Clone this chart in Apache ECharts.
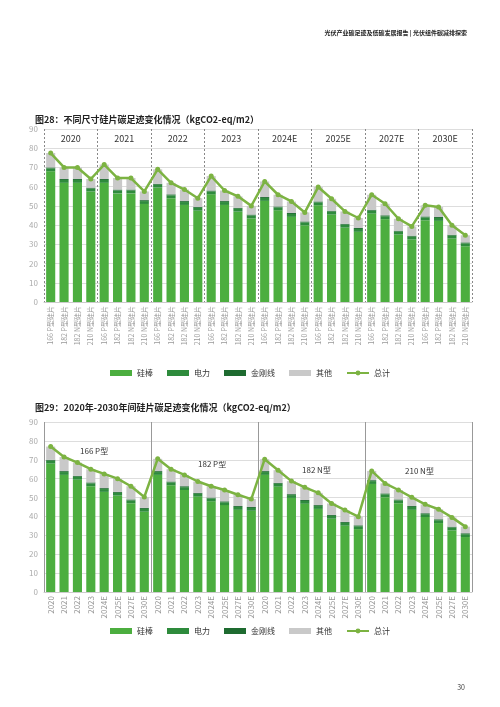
<!DOCTYPE html>
<html lang="zh">
<head>
<meta charset="UTF-8">
<title>硅片碳足迹</title>
<script src="https://cdn.jsdelivr.net/npm/echarts@6/dist/echarts.min.js"></script>
<style>
  html, body { margin: 0; padding: 0; background: #fff; }
  #main { width: 500px; height: 707px; }
</style>
</head>
<body>
<div id="main"></div>
<script>
// ---- 图28 数据 ----
var sizes = ['166 P型硅片', '182 P型硅片', '182 N型硅片', '210 N型硅片'];
var years1 = ['2020', '2021', '2022', '2023', '2024E', '2025E', '2027E', '2030E'];
var cats1 = [];
years1.forEach(function () { sizes.forEach(function (s) { cats1.push(s); }); });

var rod1 = [68, 62, 62, 57.5, 62, 56.5, 56.5, 51, 59.5, 54, 50.5, 47.5, 56, 50.5, 47, 43.5,
            52.6, 47.7, 44.3, 39.9, 50.3, 45.5, 38.7, 36.5, 46, 43.1, 35.1, 32.5, 42.5, 42.2, 33, 29];
var power1 = [1.5, 1.5, 1.5, 1.5, 1.5, 1.5, 1.5, 1.5, 1.5, 1.5, 1.5, 1.5, 1.5, 1.5, 1.5, 1.5,
              1.5, 1.5, 1.5, 1.5, 1.5, 1.5, 1.5, 1.5, 1.5, 1.5, 1.5, 1.5, 1.5, 1.5, 1.5, 1.5];
var wire1 = [0.5, 0.5, 0.5, 0.5, 0.5, 0.5, 0.5, 0.5, 0.5, 0.5, 0.5, 0.5, 0.5, 0.5, 0.5, 0.5,
             0.5, 0.5, 0.5, 0.5, 0.5, 0.5, 0.5, 0.5, 0.5, 0.5, 0.5, 0.5, 0.5, 0.5, 0.5, 0.5];
var other1 = [7.5, 6, 6, 4.5, 7.5, 6, 6, 4.5, 7.5, 6, 6, 4.5, 7.5, 5.5, 6, 4.5,
              8.1, 6.1, 6, 4.7, 7.5, 6.2, 6.4, 5.2, 7.8, 6, 6.2, 4.8, 5.8, 5.2, 4.9, 3.7];
var total1 = [77.5, 70, 70, 64, 71.5, 64.5, 64.5, 57.5, 69, 62, 58.5, 54, 65.5, 58, 55, 50,
              62.7, 55.8, 52.3, 46.6, 59.8, 53.7, 47.1, 43.7, 55.8, 51.1, 43.3, 39.3, 50.3, 49.4, 39.9, 34.7];

// ---- 图29 数据 ----
var groups2 = ['166 P型', '182 P型', '182 N型', '210 N型'];
var years2 = ['2020', '2021', '2022', '2023', '2024E', '2025E', '2027E', '2030E'];
var cats2 = [];
groups2.forEach(function () { years2.forEach(function (y) { cats2.push(y); }); });

var rod2 = [68, 62, 59.5, 56, 53, 51, 47, 42.5,
            62, 56.5, 54, 50.5, 48, 46, 43.5, 43,
            62, 55.8, 49.8, 46.7, 44, 38.8, 35.1, 33.3,
            57.2, 50.2, 47, 43.5, 39.7, 36.5, 32.6, 29.1];
var power2 = power1.slice();
var wire2 = wire1.slice();
var other2 = [7, 7.5, 7, 7, 7.5, 7, 7, 5.8,
              6.5, 6.5, 6, 6, 6, 6, 6, 4.2,
              6.3, 6.7, 6.9, 6.7, 6.5, 6.1, 6.3, 4.6,
              4.9, 5.3, 5, 4.6, 4.7, 5.3, 4.9, 3.5];
var total2 = [77, 71.5, 68.5, 65, 62.5, 60, 56, 50.3,
              70.5, 65, 62, 58.5, 56, 54, 51.5, 49.2,
              70.3, 64.5, 58.7, 55.4, 52.5, 46.9, 43.4, 39.9,
              64.1, 57.5, 54, 50.1, 46.4, 43.8, 39.5, 34.6];

var C_ROD = '#4cae3f', C_POW = '#2e8b3c', C_WIRE = '#1e6b30', C_OTH = '#c9c9c9', C_LINE = '#7cb342';
var font = '"Noto Sans CJK SC", "Noto Sans", sans-serif';

function yAx(i) {
  return {
    type: 'value', gridIndex: i, min: 0, max: 90, interval: 10,
    axisLine: { show: false }, axisTick: { show: false },
    axisLabel: { color: '#aaa', fontSize: 8, margin: 6 },
    splitLine: { lineStyle: { color: '#ddd', width: 1 } }
  };
}
function bars(ix, rod, pw, wi, ot, tot) {
  var base = { type: 'bar', stack: 's' + ix, xAxisIndex: ix * 2, yAxisIndex: ix, barCategoryGap: '32%' };
  return [
    Object.assign({ name: '硅棒', data: rod, itemStyle: { color: C_ROD } }, base),
    Object.assign({ name: '电力', data: pw, itemStyle: { color: C_POW } }, base),
    Object.assign({ name: '金刚线', data: wi, itemStyle: { color: C_WIRE } }, base),
    Object.assign({ name: '其他', data: ot, itemStyle: { color: C_OTH } }, base),
    { name: '总计', type: 'line', xAxisIndex: ix * 2, yAxisIndex: ix, data: tot, z: 5,
      symbol: 'circle', symbolSize: 5, itemStyle: { color: C_LINE }, lineStyle: { color: C_LINE, width: 2.5 } }
  ];
}
var legendData = [
  { name: '硅棒', icon: 'rect' }, { name: '电力', icon: 'rect' }, { name: '金刚线', icon: 'rect' },
  { name: '其他', icon: 'rect' }, { name: '总计' }
];

var chart = echarts.init(document.getElementById('main'));
chart.setOption({
  animation: false,
  textStyle: { fontFamily: font },
  title: [
    { text: '图28：不同尺寸硅片碳足迹变化情况（kgCO2-eq/m2）', left: 30, top: 110,
      textStyle: { fontSize: 9, fontWeight: 'bold', color: '#222' } },
    { text: '图29：2020年-2030年间硅片碳足迹变化情况（kgCO2-eq/m2）', left: 30, top: 398,
      textStyle: { fontSize: 9, fontWeight: 'bold', color: '#222' } },
    { text: '光伏产业碳足迹及低碳发展报告 | 光伏组件碳减排探索', right: 28, top: 25,
      textStyle: { fontSize: 6, fontWeight: 'bold', color: '#222' } },
    { text: '30', right: 30, top: 679, textStyle: { fontSize: 7, fontWeight: 'normal', color: '#444' } }
  ],
  grid: [
    { left: 44, right: 28, top: 129, height: 173 },
    { left: 44, right: 28, top: 422, height: 170 }
  ],
  legend: [
    { data: legendData, top: 364, left: 'center', itemWidth: 22, itemHeight: 6, itemGap: 14,
      textStyle: { fontSize: 8, color: '#333' } },
    { data: legendData, top: 622, left: 'center', itemWidth: 22, itemHeight: 6, itemGap: 14,
      textStyle: { fontSize: 8, color: '#333' } }
  ],
  xAxis: [
    { type: 'category', gridIndex: 0, data: cats1,
      axisLine: { lineStyle: { color: '#ccc' } }, axisTick: { show: false },
      axisLabel: { rotate: 90, fontSize: 7, color: '#999', interval: 0, margin: 4 } },
    { type: 'category', gridIndex: 0, data: years1, position: 'top',
      axisLine: { show: false }, axisTick: { show: false },
      axisLabel: { inside: true, fontSize: 9, color: '#333', margin: 5 },
      splitLine: { show: true, interval: 0, lineStyle: { color: '#888', type: [2, 2] } } },
    { type: 'category', gridIndex: 1, data: cats2,
      axisLine: { lineStyle: { color: '#ccc' } }, axisTick: { show: false },
      axisLabel: { rotate: 90, fontSize: 8, color: '#999', interval: 0, margin: 4 } },
    { type: 'category', gridIndex: 1, data: groups2, position: 'top',
      axisLine: { show: false }, axisTick: { show: false }, axisLabel: { show: false },
      splitLine: { show: true, interval: 0, lineStyle: { color: '#999', width: 1 } } }
  ],
  yAxis: [yAx(0), yAx(1)],
  graphic: [
    { type: 'text', left: 80, top: 447, style: { text: '166 P型', fontSize: 8, fill: '#333', fontFamily: font } },
    { type: 'text', left: 198, top: 460, style: { text: '182 P型', fontSize: 8, fill: '#333', fontFamily: font } },
    { type: 'text', left: 302, top: 466, style: { text: '182 N型', fontSize: 8, fill: '#333', fontFamily: font } },
    { type: 'text', left: 405, top: 467, style: { text: '210 N型', fontSize: 8, fill: '#333', fontFamily: font } }
  ],
  series: bars(0, rod1, power1, wire1, other1, total1).concat(bars(1, rod2, power2, wire2, other2, total2))
});
</script>
</body>
</html>
